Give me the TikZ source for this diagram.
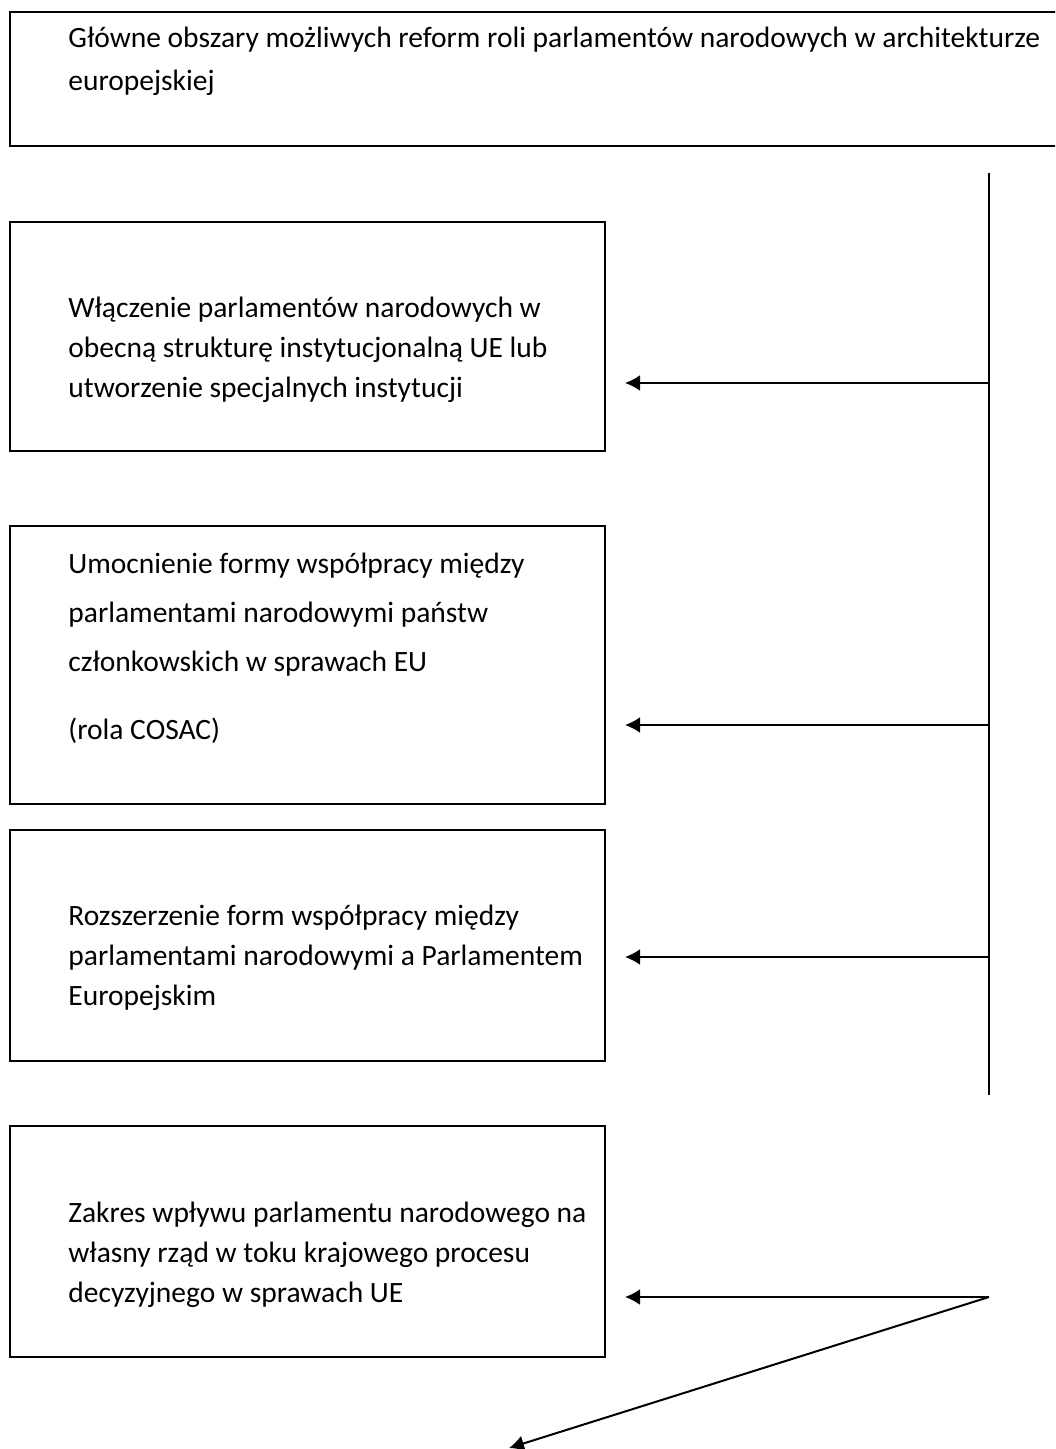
\documentclass[tikz,border=0pt]{standalone}
\usepackage{fontspec}
\setmainfont{Carlito}
\usetikzlibrary{arrows.meta}
\begin{document}
\begin{tikzpicture}[x=0.5pt,y=-0.5pt,
  box/.style={draw, line width=0.9pt, rectangle, inner sep=0pt, outer sep=0pt, anchor=north west},
  txt/.style={anchor=north west, inner sep=0pt, align=left, font=\fontsize{14.75}{20}\selectfont},
  link/.style={line width=1pt},
  arr/.style={line width=1pt, -{Latex[length=7.5pt,width=8pt]}}]
\clip (0,0) rectangle (1055,1449);
\fill[white] (0,0) rectangle (1055,1449);

% title box (runs past the right edge)
\node[box, minimum width=530pt, minimum height=67pt] (b0) at (10,12) {};
\node[txt] (t0) at (68,19) {\strut Główne obszary możliwych reform roli parlamentów narodowych w architekturze\\[1.5pt] europejskiej};

% four reform areas
\node[box, minimum width=297.5pt, minimum height=114.5pt] (b1) at (10,222) {};
\node[txt] (t1) at (68,289) {\strut Włączenie parlamentów narodowych w\\ obecną strukturę instytucjonalną UE lub\\ utworzenie specjalnych instytucji};

\node[box, minimum width=297.5pt, minimum height=139pt] (b2) at (10,526) {};
\node[txt] (t2) at (68,545) {\strut Umocnienie formy współpracy między\\[4.5pt] parlamentami narodowymi państw\\[4.5pt] członkowskich w sprawach EU\\[14pt] (rola COSAC)};

\node[box, minimum width=297.5pt, minimum height=115.5pt] (b3) at (10,830) {};
\node[txt] (t3) at (68,897) {\strut Rozszerzenie form współpracy między\\ parlamentami narodowymi a Parlamentem\\ Europejskim};

\node[box, minimum width=297.5pt, minimum height=115.5pt] (b4) at (10,1126) {};
\node[txt] (t4) at (68,1194) {\strut Zakres wpływu parlamentu narodowego na\\ własny rząd w toku krajowego procesu\\ decyzyjnego w sprawach UE};

% spine and branches
\coordinate (vtop) at (989,173);
\coordinate (vbot) at (989,1095);
\coordinate (j1) at (989,383);
\coordinate (j2) at (989,725);
\coordinate (j3) at (989,957);
\coordinate (j4) at (989,1297);
\coordinate (h1) at (625,383);
\coordinate (h2) at (625,725);
\coordinate (h3) at (625,957);
\coordinate (h4) at (625,1297);
\coordinate (d4) at (509,1448);

\draw[link] (vtop) -- (vbot);
\draw[arr] (j1) -- (h1);
\draw[arr] (j2) -- (h2);
\draw[arr] (j3) -- (h3);
\draw[arr] (j4) -- (h4);
\draw[arr] (j4) -- (d4);
\end{tikzpicture}
\end{document}
